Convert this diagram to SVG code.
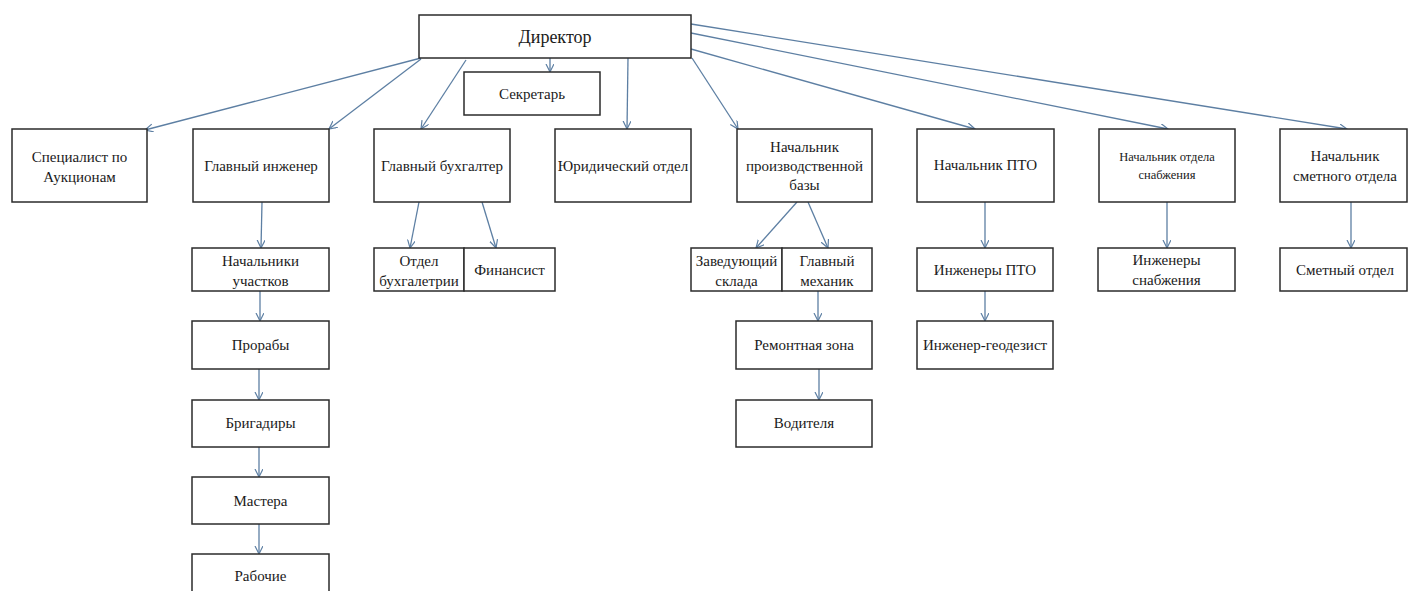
<svg xmlns="http://www.w3.org/2000/svg" width="1408" height="591" viewBox="0 0 1408 591">
<style>
.box{fill:#fff;stroke:#2b2b2b;stroke-width:1.5}
.t text{font-family:'Liberation Serif','DejaVu Serif',serif;font-size:15px;fill:#1a1a1a;text-anchor:middle}
.t .big{font-size:18px}
.t .small{font-size:12.5px}
.c line{stroke:#5d7fa3;stroke-width:1.3;marker-end:url(#ah)}
</style>
<defs>
<marker id="ah" markerWidth="10" markerHeight="10" refX="8" refY="4" orient="auto" markerUnits="userSpaceOnUse">
<path d="M0,0 L8,4 L0,8" fill="none" stroke="#5d7fa3" stroke-width="1.2"/>
</marker>
</defs>
<rect width="1408" height="591" fill="#fff"/>
<g class="c" id="connectors">
<line x1="421" y1="58" x2="145" y2="130"/>
<line x1="421" y1="59" x2="329" y2="129"/>
<line x1="466" y1="60" x2="421" y2="129"/>
<line x1="550" y1="58" x2="550" y2="72"/>
<line x1="628" y1="58" x2="627" y2="129"/>
<line x1="692" y1="58" x2="738" y2="129"/>
<line x1="691" y1="49" x2="975" y2="129"/>
<line x1="691" y1="33" x2="1168" y2="129"/>
<line x1="691" y1="24" x2="1347" y2="129"/>
<line x1="262" y1="202" x2="261" y2="248"/>
<line x1="419" y1="202" x2="410" y2="248"/>
<line x1="482" y1="202" x2="496" y2="248"/>
<line x1="260" y1="291" x2="260" y2="321"/>
<line x1="259" y1="369" x2="259" y2="400"/>
<line x1="259" y1="447" x2="259" y2="477"/>
<line x1="259" y1="524" x2="259" y2="554"/>
<line x1="797" y1="202" x2="756" y2="248"/>
<line x1="808" y1="202" x2="828" y2="248"/>
<line x1="818" y1="291" x2="818" y2="321"/>
<line x1="819" y1="369" x2="819" y2="400"/>
<line x1="985" y1="202" x2="985" y2="248"/>
<line x1="985" y1="291" x2="985" y2="321"/>
<line x1="1167" y1="202" x2="1167" y2="248"/>
<line x1="1351" y1="202" x2="1351" y2="248"/>
</g>
<g class="t" font-family="Liberation Serif, DejaVu Serif, serif">
<g id="director"><rect class="box" x="419" y="15" width="272" height="43"/><text class="big" x="555" y="43">Директор</text></g>
<g id="secretary"><rect class="box" x="464" y="72" width="136" height="43"/><text x="532" y="99">Секретарь</text></g>
<g id="specialist"><rect class="box" x="12" y="129" width="135" height="73"/><text x="79.5" y="162">Специалист по</text><text x="79.5" y="182">Аукционам</text></g>
<g id="chief-engineer"><rect class="box" x="193" y="129" width="136" height="73"/><text x="261" y="171">Главный инженер</text></g>
<g id="chief-accountant"><rect class="box" x="374" y="129" width="136" height="73"/><text x="442" y="171">Главный бухгалтер</text></g>
<g id="legal"><rect class="box" x="555" y="129" width="136" height="73"/><text x="623" y="171">Юридический отдел</text></g>
<g id="production-base"><rect class="box" x="737" y="129" width="135" height="73"/><text x="804.5" y="152">Начальник</text><text x="804.5" y="171">производственной</text><text x="804.5" y="190">базы</text></g>
<g id="pto-head"><rect class="box" x="917" y="129" width="137" height="73"/><text x="985.5" y="170">Начальник ПТО</text></g>
<g id="supply-head"><rect class="box" x="1099" y="129" width="136" height="73"/><text class="small" x="1167" y="161">Начальник отдела</text><text class="small" x="1167" y="179">снабжения</text></g>
<g id="estimate-head"><rect class="box" x="1280" y="129" width="127" height="73"/><text x="1345" y="161">Начальник</text><text x="1345" y="181">сметного отдела</text></g>
<g id="site-heads"><rect class="box" x="192" y="248" width="137" height="43"/><text x="260.5" y="266">Начальники</text><text x="260.5" y="286">участков</text></g>
<g id="foremen"><rect class="box" x="192" y="321" width="137" height="48"/><text x="260.5" y="350">Прорабы</text></g>
<g id="brigadiers"><rect class="box" x="192" y="400" width="137" height="47"/><text x="260.5" y="428">Бригадиры</text></g>
<g id="masters"><rect class="box" x="192" y="477" width="137" height="47"/><text x="260.5" y="506">Мастера</text></g>
<g id="workers"><rect class="box" x="192" y="554" width="137" height="45"/><text x="260.5" y="581">Рабочие</text></g>
<g id="accounting"><rect class="box" x="374" y="248" width="90" height="43"/><text x="419" y="266">Отдел</text><text x="419" y="286">бухгалетрии</text></g>
<g id="financier"><rect class="box" x="464" y="248" width="91" height="43"/><text x="509.5" y="275">Финансист</text></g>
<g id="warehouse"><rect class="box" x="691" y="248" width="91" height="43"/><text x="736.5" y="266">Заведующий</text><text x="736.5" y="286">склада</text></g>
<g id="chief-mechanic"><rect class="box" x="782" y="248" width="90" height="43"/><text x="827" y="266">Главный</text><text x="827" y="286">механик</text></g>
<g id="repair-zone"><rect class="box" x="736" y="321" width="136" height="48"/><text x="804" y="350">Ремонтная зона</text></g>
<g id="drivers"><rect class="box" x="736" y="400" width="136" height="47"/><text x="804" y="428">Водителя</text></g>
<g id="pto-engineers"><rect class="box" x="917" y="248" width="136" height="43"/><text x="985" y="275">Инженеры  ПТО</text></g>
<g id="geodesist"><rect class="box" x="917" y="321" width="136" height="48"/><text x="985" y="350">Инженер-геодезист</text></g>
<g id="supply-engineers"><rect class="box" x="1098" y="248" width="137" height="43"/><text x="1166.5" y="265">Инженеры</text><text x="1166.5" y="285">снабжения</text></g>
<g id="estimate-dept"><rect class="box" x="1280" y="248" width="127" height="43"/><text x="1345" y="275">Сметный отдел</text></g>
</g>
</svg>
